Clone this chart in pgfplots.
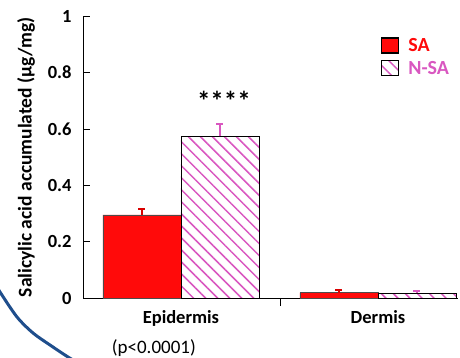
\documentclass[border=0pt]{standalone}
\usepackage{pgfplots}
\pgfplotsset{compat=1.18}
\usepackage{fontspec}
\setmainfont{Carlito}
\usetikzlibrary{patterns.meta}
\definecolor{sared}{HTML}{FF0A0A}
\definecolor{nsamag}{HTML}{D957C0}
\definecolor{arcblue}{HTML}{1F4E8C}
\begin{document}
\begin{tikzpicture}[x=1pt,y=1pt]
\useasboundingbox (0,0) rectangle (460,357);
\begin{axis}[
  at={(83pt,59pt)}, anchor=south west,
  scale only axis, width=375pt, height=282pt,
  clip=false,
  axis lines=left, axis line style={-, line width=0.8pt},
  xmin=-0.497, xmax=1.406, ymin=0, ymax=1,
  ytick={0,0.2,0.4,0.6,0.8,1},
  yticklabel style={font=\fontsize{18.5}{20}\selectfont\bfseries, xshift=-8pt},
  /pgf/number format/assume math mode=true,
  tick align=inside, major tick length=7pt,
  tick style={line width=0.6pt, black},
  xtick={0,1}, xticklabels={Epidermis,Dermis},
  xtick style={draw=none},
  xticklabel style={font=\fontsize{18.5}{20}\selectfont\bfseries, yshift=-2pt},
  extra x ticks={0.503}, extra x tick labels={},
  extra x tick style={xtick style={draw=black, line width=0.6pt}, major tick length=8pt},
  ylabel={Salicylic acid accumulated (µg/mg)},
  ylabel style={at={(axis description cs:-0.152,0.5)}, anchor=center, font=\fontsize{19.5}{21}\selectfont\bfseries},
  ybar=0pt, bar width=78pt,
  legend style={at={(0.785,0.935)}, anchor=north west, draw=none, fill=none,
    font=\fontsize{20}{22}\selectfont\bfseries, row sep=4pt,
    legend cell align=left,
    nodes={inner xsep=9pt}},
  legend image code/.code={\draw[#1, draw=black, line width=1.8pt] (0pt,-7pt) rectangle (17pt,8pt);},
]
\addplot[fill=sared, draw=black!70, line width=0.6pt,
  error bars/.cd, y dir=plus, y explicit,
  error bar style={color=red!85!black, line width=2pt},
  error mark options={rotate=90, mark size=3.5pt, line width=2pt, color=red!85!black}]
  coordinates {(0,0.295) +- (0,0.02) (1,0.019) +- (0,0.009)};
\addlegendentry{\textcolor{sared}{SA}}
\addplot[pattern={Lines[angle=-45, distance=8.5pt, line width=1.5pt]}, pattern color=nsamag, draw=black, line width=0.8pt,
  error bars/.cd, y dir=plus, y explicit,
  error bar style={color=nsamag, line width=2pt},
  error mark options={rotate=90, mark size=3.5pt, line width=2pt, color=nsamag}]
  coordinates {(0,0.573) +- (0,0.044) (1,0.017) +- (0,0.008)};
\addlegendentry{\textcolor{nsamag}{N-SA}}
\node[font=\fontsize{27}{28}\selectfont\bfseries] at (axis cs:0.218,0.700) {****};
\node[font=\fontsize{19}{21}\selectfont] at (axis description cs:0.189,-0.177) {(p<0.0001)};
\end{axis}
\begin{scope}
\clip (0,0) rectangle (460,357);
\draw[arcblue, line width=3pt] plot[smooth] coordinates {(-4,72) (0,65) (17,40) (33,24) (50,12) (68,0) (75,-4)};
\end{scope}
\end{tikzpicture}
\end{document}
